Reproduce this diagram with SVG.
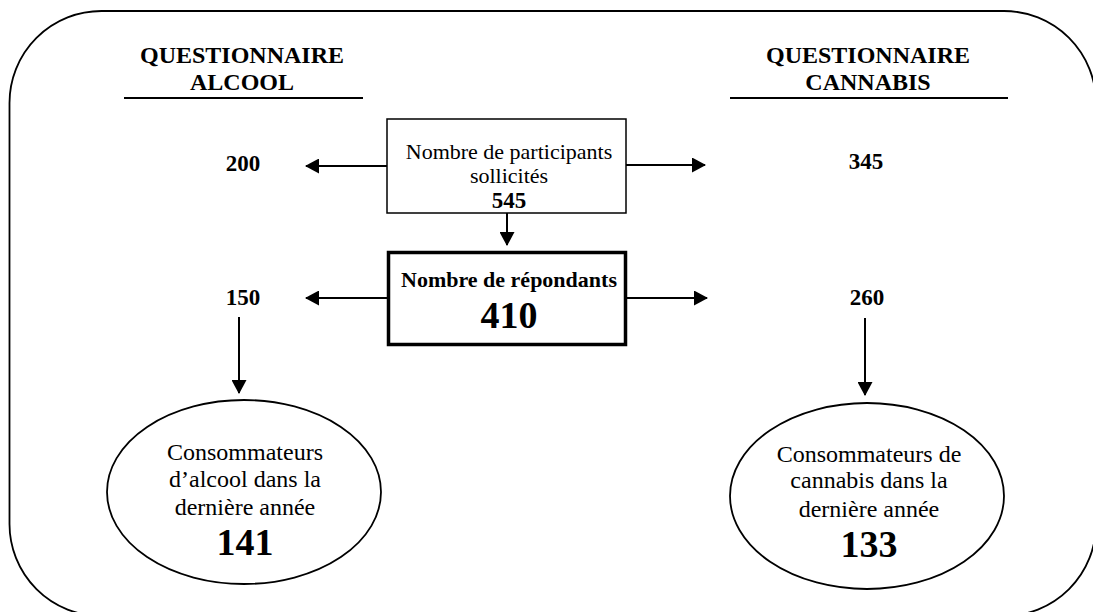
<svg xmlns="http://www.w3.org/2000/svg" width="1093" height="612" viewBox="0 0 1093 612">
<defs>
<style>
text{font-family:"Liberation Serif","Times New Roman",serif;fill:#000;text-anchor:middle}
.h{font-size:24px;font-weight:bold}
.n{font-size:23px;font-weight:bold}
.big{font-size:38px;font-weight:bold}
.t{font-size:22px}
.te{font-size:24px}
.tb{font-size:22px;font-weight:bold}
.ln{stroke:#000;stroke-width:2;fill:none}
.edge{stroke:#000;stroke-width:2;fill:none;marker-end:url(#ah)}
</style>
<marker id="ah" markerWidth="14" markerHeight="15" refX="13" refY="7.5" orient="auto" markerUnits="userSpaceOnUse">
<path d="M0,0 L14,7.5 L0,15 Z" fill="#000"/>
</marker>
</defs>
<rect width="1093" height="612" fill="#fff"/>
<g id="frame">
<rect x="9.5" y="11" width="1086.5" height="605" rx="92" ry="92" fill="none" stroke="#000" stroke-width="1.8"/>
</g>
<g id="header-alcool">
<text class="h" x="242" y="63">QUESTIONNAIRE</text>
<text class="h" x="242" y="90">ALCOOL</text>
<line class="ln" x1="124" y1="98" x2="363" y2="98"/>
</g>
<g id="header-cannabis">
<text class="h" x="868" y="63">QUESTIONNAIRE</text>
<text class="h" x="868" y="90">CANNABIS</text>
<line class="ln" x1="730" y1="98" x2="1008" y2="98"/>
</g>
<g id="sollicites">
<rect x="387" y="119" width="239" height="94" fill="#fff" stroke="#000" stroke-width="1.5"/>
<text class="t" x="509" y="159">Nombre de participants</text>
<text class="t" x="509" y="183">sollicités</text>
<text class="n" x="509" y="208">545</text>
</g>
<g id="repondants">
<rect x="388.5" y="252.5" width="237" height="92" fill="#fff" stroke="#000" stroke-width="3.5"/>
<text class="tb" x="509" y="287">Nombre de répondants</text>
<text class="big" x="509" y="328">410</text>
</g>
<g id="n200"><text class="n" x="243" y="171">200</text></g>
<g id="n345"><text class="n" x="866" y="169">345</text></g>
<g id="n150"><text class="n" x="243" y="305">150</text></g>
<g id="n260"><text class="n" x="867" y="305">260</text></g>
<g id="conso-alcool">
<ellipse cx="244" cy="492" rx="137" ry="92" fill="#fff" stroke="#000" stroke-width="1.8"/>
<text class="te" x="245" y="460">Consommateurs</text>
<text class="te" x="245" y="487">d’alcool dans la</text>
<text class="te" x="245" y="515">dernière année</text>
<text class="big" x="245" y="555">141</text>
</g>
<g id="conso-cannabis">
<ellipse cx="867" cy="496" rx="137" ry="93" fill="#fff" stroke="#000" stroke-width="1.8"/>
<text class="te" x="869" y="462">Consommateurs de</text>
<text class="te" x="869" y="488">cannabis dans la</text>
<text class="te" x="869" y="517">dernière année</text>
<text class="big" x="869" y="557">133</text>
</g>
<g id="connectors">
<line class="edge" x1="387" y1="166" x2="306" y2="166"/>
<line class="edge" x1="626" y1="165" x2="705" y2="165"/>
<line class="edge" x1="507" y1="213" x2="507" y2="245"/>
<line class="edge" x1="387" y1="298" x2="306" y2="298"/>
<line class="edge" x1="627" y1="298" x2="707" y2="298"/>
<line class="edge" x1="239" y1="317" x2="239" y2="393"/>
<line class="edge" x1="865" y1="318" x2="865" y2="395"/>
</g>
</svg>
